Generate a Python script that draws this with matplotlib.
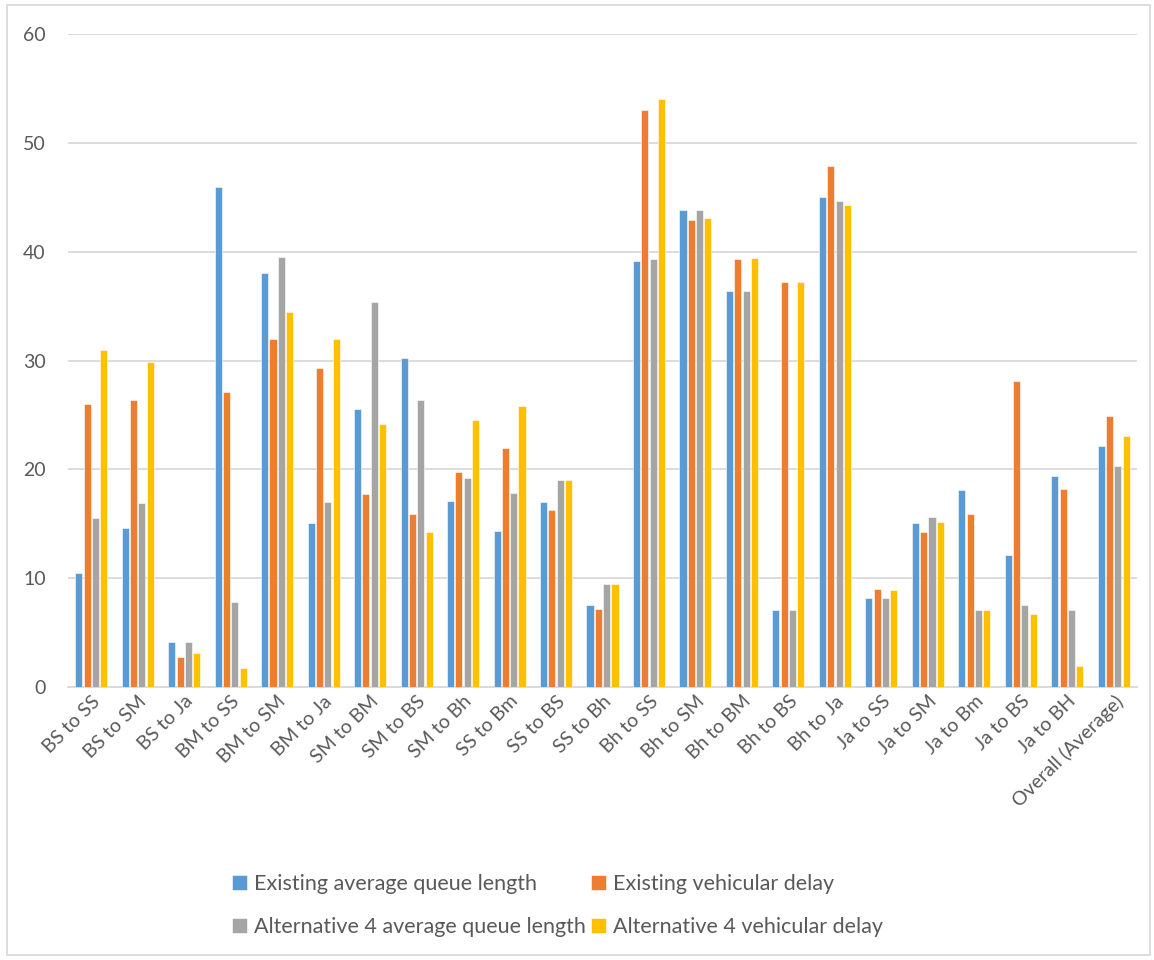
import matplotlib
matplotlib.use("Agg")
import matplotlib.pyplot as plt
import numpy as np
from matplotlib.patches import Rectangle

categories = ["BS to SS", "BS to SM", "BS to Ja", "BM to SS", "BM to SM", "BM to Ja",
              "SM to BM", "SM to BS", "SM to Bh", "SS to Bm", "SS to BS", "SS to Bh",
              "Bh to SS", "Bh to SM", "Bh to BM", "Bh to BS", "Bh to Ja",
              "Ja to SS", "Ja to SM", "Ja to Bm", "Ja to BS", "Ja to BH",
              "Overall (Average)"]

existing_queue = [10.5, 14.6, 4.1, 45.9, 38.0, 15.1, 25.5, 30.2, 17.1, 14.3, 17.0, 7.5,
                  39.1, 43.8, 36.4, 7.1, 45.0, 8.2, 15.1, 18.1, 12.1, 19.4, 22.1]
existing_delay = [26.0, 26.4, 2.8, 27.1, 32.0, 29.3, 17.7, 15.9, 19.8, 22.0, 16.3, 7.2,
                  53.0, 42.9, 39.3, 37.2, 47.9, 9.0, 14.2, 15.9, 28.1, 18.2, 24.9]
alt4_queue = [15.5, 16.9, 4.1, 7.8, 39.5, 17.0, 35.4, 26.4, 19.2, 17.8, 19.0, 9.5,
              39.3, 43.8, 36.4, 7.1, 44.7, 8.2, 15.6, 7.1, 7.5, 7.1, 20.3]
alt4_delay = [31.0, 29.9, 3.1, 1.7, 34.5, 32.0, 24.2, 14.2, 24.5, 25.8, 19.0, 9.5,
              54.0, 43.1, 39.4, 37.2, 44.3, 8.9, 15.2, 7.1, 6.7, 1.9, 23.1]

series_labels = ["Existing average queue length", "Existing vehicular delay",
                 "Alternative 4 average queue length", "Alternative 4 vehicular delay"]
series_colors = ["#5B9BD5", "#ED7D31", "#A5A5A5", "#FFC000"]
y_ticks = [0, 10, 20, 30, 40, 50, 60]

text_color = "#595959"
grid_color = "#D9D9D9"
font = ["Lato", "DejaVu Sans"]

fig = plt.figure(figsize=(11.54, 9.6), dpi=100)
ax = fig.add_axes([68 / 1154, 1 - 687 / 960, (1137 - 68) / 1154, (687 - 34) / 960])

x = np.arange(len(categories))
step = 0.179
width = 0.152
all_series = [existing_queue, existing_delay, alt4_queue, alt4_delay]
handles = []
for i, (vals, color, label) in enumerate(zip(all_series, series_colors, series_labels)):
    offset = (i - 1.5) * step
    b = ax.bar(x + offset, vals, width=width, color=color, label=label,
               edgecolor="white", linewidth=0.4, zorder=3)
    handles.append(b)

ax.set_xlim(-0.5, len(categories) - 0.5)
ax.set_ylim(0, 60)
ax.set_yticks(y_ticks)
ax.yaxis.grid(True, color=grid_color, linewidth=1.3, zorder=0)
ax.set_axisbelow(True)
for side in ["left", "right", "top"]:
    ax.spines[side].set_visible(False)
ax.spines["bottom"].set_color(grid_color)
ax.spines["bottom"].set_linewidth(1.3)
ax.tick_params(axis="both", length=0, colors=text_color, labelsize=14)
ax.tick_params(axis="y", pad=16)
ax.tick_params(axis="x", pad=4)
ax.set_xticks(x)
ax.set_xticklabels(categories, rotation=45, ha="right", rotation_mode="anchor",
                   family=font)
for lbl in ax.get_yticklabels():
    lbl.set_family(font)

# legend laid out row by row: column-major order of handles gives that
order = [0, 2, 1, 3]
leg = fig.legend(handles=[handles[k] for k in order],
                 labels=[series_labels[k] for k in order],
                 ncol=2, frameon=False,
                 loc="upper left", bbox_to_anchor=(213 / 1154, 1 - 855 / 960),
                 prop={"family": font, "size": 15.5}, labelcolor=text_color,
                 handlelength=0.7, handleheight=0.7, handletextpad=0.3,
                 columnspacing=0.25, labelspacing=1.05)

fig.patches.append(Rectangle((7 / 1154, 5 / 960), 1143 / 1154, 950 / 960,
                             transform=fig.transFigure, fill=False,
                             edgecolor=grid_color, linewidth=1.3))

fig.savefig("out.png", dpi=100, facecolor="white")
